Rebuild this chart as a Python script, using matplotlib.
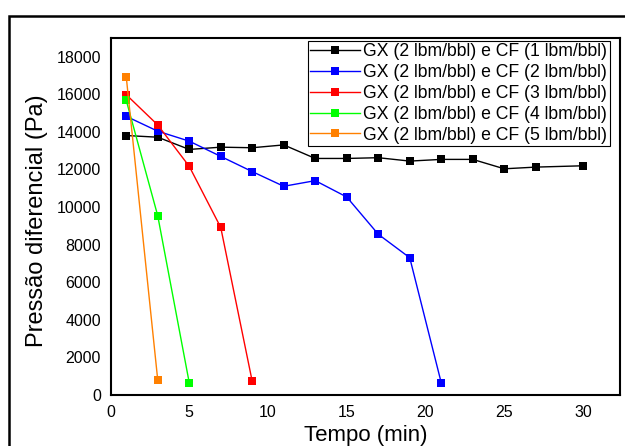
import matplotlib
matplotlib.use("Agg")
import matplotlib.pyplot as plt
from matplotlib.patches import Rectangle

plt.rcParams['font.family'] = ['Liberation Sans', 'DejaVu Sans']

# Data
t_cf1 = [1, 3, 5, 7, 9, 11, 13, 15, 17, 19, 21, 23, 25, 27, 30]
p_cf1 = [13800, 13710, 13060, 13180, 13150, 13300, 12580, 12580, 12620, 12440, 12530, 12530, 12030, 12120, 12190]
t_cf2 = [1, 3, 5, 7, 9, 11, 13, 15, 17, 19, 21]
p_cf2 = [14820, 14030, 13500, 12690, 11880, 11100, 11400, 10530, 8550, 7300, 650]
t_cf3 = [1, 3, 5, 7, 9]
p_cf3 = [15970, 14360, 12160, 8910, 720]
t_cf4 = [1, 3, 5]
p_cf4 = [15670, 9530, 650]
t_cf5 = [1, 3]
p_cf5 = [16920, 790]

labels = ["GX (2 lbm/bbl) e CF (1 lbm/bbl)",
          "GX (2 lbm/bbl) e CF (2 lbm/bbl)",
          "GX (2 lbm/bbl) e CF (3 lbm/bbl)",
          "GX (2 lbm/bbl) e CF (4 lbm/bbl)",
          "GX (2 lbm/bbl) e CF (5 lbm/bbl)"]
colors = ["#000000", "#0000ff", "#ff0000", "#00ff00", "#ff8000"]
xticks = [0, 5, 10, 15, 20, 25, 30]
yticks = [0, 2000, 4000, 6000, 8000, 10000, 12000, 14000, 16000, 18000]

W, H = 625, 446
fig = plt.figure(figsize=(W / 100, H / 100), dpi=100)

# outer frame
fig.patches.append(Rectangle((9 / W, -0.05), 1.1, 1 - 15.5 / H + 0.05,
                             transform=fig.transFigure, fill=False,
                             edgecolor='black', linewidth=1.8, zorder=0))

ax = fig.add_axes([110.5 / W, 1 - 395 / H, (620 - 110.5) / W, (395 - 38.3) / H])

series = [(t_cf1, p_cf1), (t_cf2, p_cf2), (t_cf3, p_cf3), (t_cf4, p_cf4), (t_cf5, p_cf5)]
for (t, p), c, lab in zip(series, colors, labels):
    ax.plot(t, p, color=c, marker='s', markersize=6, linewidth=1.0,
            markeredgewidth=0, label=lab)

ax.set_xlim(0, 32.35)
ax.set_ylim(0, 18970)
ax.set_xticks(xticks)
ax.set_yticks(yticks)
ax.tick_params(length=0, labelsize=11.5, pad=7)
for s in ax.spines.values():
    s.set_linewidth(1.5)

ax.set_xlabel("Tempo (min)", fontsize=16, labelpad=4)
ax.set_ylabel("Pressão diferencial (Pa)", fontsize=17)
ax.yaxis.set_label_coords((48 - 110.5) / (620 - 110.5), 0.488)

leg = ax.legend(loc='upper right', bbox_to_anchor=(610 / W, 1 - 40.5 / H),
                bbox_transform=fig.transFigure, fontsize=12.7,
                frameon=True, fancybox=False, edgecolor='black', framealpha=1,
                borderpad=0.15, labelspacing=0.22, handlelength=2.8,
                handletextpad=0.2, borderaxespad=0, markerscale=0.9)
leg.get_frame().set_linewidth(0.8)

fig.savefig("out.png", dpi=100)
